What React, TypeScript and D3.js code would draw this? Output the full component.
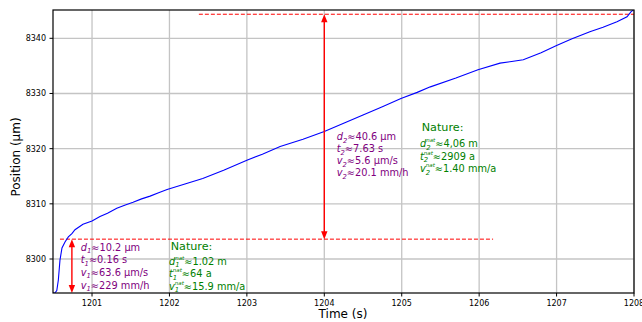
import React from "react";
import * as d3 from "d3";

// ---- data ----
const times = [
  1200.496, 1200.52, 1200.545, 1200.565, 1200.586, 1200.612, 1200.651, 1200.694, 1200.74, 1200.78,
  1200.883, 1201.0, 1201.103, 1201.2, 1201.32, 1201.43, 1201.53, 1201.64, 1201.75, 1201.86, 1201.97,
  1202.2, 1202.43, 1202.7, 1203.0, 1203.2, 1203.43, 1203.725, 1204.0, 1204.25, 1204.5, 1204.75,
  1204.99, 1205.2, 1205.37, 1205.7, 1205.985, 1206.27, 1206.42, 1206.57, 1206.8, 1207.0, 1207.2,
  1207.43, 1207.6, 1207.78, 1207.91, 1207.96, 1207.99,
];
const positions = [
  8293.84, 8293.84, 8294.3, 8296.2, 8299.8, 8302.0, 8303.1, 8304.0, 8304.6, 8305.3,
  8306.3, 8306.9, 8307.7, 8308.3, 8309.2, 8309.8, 8310.3, 8310.9, 8311.4, 8312.0, 8312.6,
  8313.6, 8314.6, 8316.1, 8317.9, 8319.0, 8320.4, 8321.7, 8323.1, 8324.6, 8326.1, 8327.6,
  8329.1, 8330.2, 8331.2, 8332.8, 8334.3, 8335.5, 8335.8, 8336.1, 8337.4, 8338.7, 8339.9,
  8341.2, 8342.0, 8343.0, 8343.9, 8344.8, 8345.1,
];
const xTicks = [1201, 1202, 1203, 1204, 1205, 1206, 1207, 1208];
const yTicks = [8300, 8310, 8320, 8330, 8340];
const xDomain = [1200.496, 1208.0];
const yDomain = [8293.84, 8345.13];

const level1 = 8303.6;
const level1Span = [1200.586, 1206.18];
const level2 = 8344.36;
const level2Span = [1202.38, 1208.0];
const arrow1X = 1200.74;
const arrow2X = 1204.0;

type Line = { sym: string; sub: string; sup?: string; rest: string };
const lab1: Line[] = [
  { sym: "d", sub: "1", rest: "≈10.2 µm" },
  { sym: "t", sub: "1", rest: "≈0.16 s" },
  { sym: "v", sub: "1", rest: "≈63.6 µm/s" },
  { sym: "v", sub: "1", rest: "≈229 mm/h" },
];
const nat1: Line[] = [
  { sym: "d", sub: "1", sup: "nat", rest: "≈1.02 m" },
  { sym: "t", sub: "1", sup: "nat", rest: "≈64 a" },
  { sym: "v", sub: "1", sup: "nat", rest: "≈15.9 mm/a" },
];
const lab2: Line[] = [
  { sym: "d", sub: "2", rest: "≈40.6 µm" },
  { sym: "t", sub: "2", rest: "≈7.63 s" },
  { sym: "v", sub: "2", rest: "≈5.6 µm/s" },
  { sym: "v", sub: "2", rest: "≈20.1 mm/h" },
];
const nat2: Line[] = [
  { sym: "d", sub: "2", sup: "nat", rest: "≈4,06 m" },
  { sym: "t", sub: "2", sup: "nat", rest: "≈2909 a" },
  { sym: "v", sub: "2", sup: "nat", rest: "≈1.40 mm/a" },
];

const W = 642, H = 322;
const L = 53, R = 634, T = 10, B = 293;
const FONT = "DejaVu Sans, sans-serif";
const PURPLE = "#800080";
const GREEN = "#008000";

function MathLine({ x, y, line, color }: { x: number; y: number; line: Line; color: string }) {
  const fs = 9.8;
  const subFs = 6.8;
  if (line.sup) {
    const subW = 0.636 * subFs;
    return (
      <text x={x} y={y} fontSize={fs} fill={color} fontFamily={FONT}>
        <tspan fontStyle="italic">{line.sym}</tspan>
        <tspan fontStyle="italic" fontSize={subFs} dy={2.5}>{line.sub}</tspan>
        <tspan fontStyle="italic" fontSize={5.5} dx={-subW} dy={-7.5}>{line.sup}</tspan>
        <tspan dy={5}>{line.rest}</tspan>
      </text>
    );
  }
  return (
    <text x={x} y={y} fontSize={fs} fill={color} fontFamily={FONT}>
      <tspan fontStyle="italic">{line.sym}</tspan>
      <tspan fontStyle="italic" fontSize={subFs} dy={2.5}>{line.sub}</tspan>
      <tspan dy={-2.5}>{line.rest}</tspan>
    </text>
  );
}

export default function App() {
  const x = d3.scaleLinear().domain(xDomain).range([L, R]);
  const y = d3.scaleLinear().domain(yDomain).range([B, T]);
  const line = d3
    .line<number>()
    .x((_, i) => x(times[i]))
    .y((d) => y(d));
  const path = line(positions) || "";

  const arrowHead = (cx: number, tipY: number, dir: number) => {
    const len = 8, half = 3.2;
    return `M${cx},${tipY} L${cx - half},${tipY + dir * len} L${cx + half},${tipY + dir * len} Z`;
  };

  const a1x = x(arrow1X);
  const a2x = x(arrow2X);
  const yl1 = y(level1);
  const yl2 = y(level2);

  return (
    <svg width={W} height={H} style={{ position: "absolute", left: 0, top: 0, background: "#fff" }}>
      <defs>
        <clipPath id="plot">
          <rect x={L} y={T} width={R - L} height={B - T} />
        </clipPath>
      </defs>
      <rect x={0} y={0} width={W} height={H} fill="#fff" />
      {/* grid */}
      {xTicks.map((t) => (
        <line key={"gx" + t} x1={x(t)} x2={x(t)} y1={T} y2={B} stroke="#c4c4c4" strokeWidth={1.3} />
      ))}
      {yTicks.map((t) => (
        <line key={"gy" + t} x1={L} x2={R} y1={y(t)} y2={y(t)} stroke="#c4c4c4" strokeWidth={1.3} />
      ))}
      {/* dashed levels */}
      <line x1={x(level1Span[0])} x2={x(level1Span[1])} y1={yl1} y2={yl1} stroke="red" strokeWidth={1} strokeDasharray="4,2" />
      <line x1={x(level2Span[0])} x2={x(level2Span[1])} y1={yl2} y2={yl2} stroke="red" strokeWidth={1} strokeDasharray="4,2" />
      {/* curve */}
      <path d={path} fill="none" stroke="blue" strokeWidth={1.1} clipPath="url(#plot)" />
      {/* arrows */}
      <line x1={a1x} x2={a1x} y1={yl1 + 6} y2={B - 6} stroke="red" strokeWidth={1.4} />
      <path d={arrowHead(a1x, yl1, 1)} fill="red" />
      <path d={arrowHead(a1x, B, -1)} fill="red" />
      <line x1={a2x} x2={a2x} y1={yl2 + 6} y2={yl1 - 6} stroke="red" strokeWidth={1.4} />
      <path d={arrowHead(a2x, yl2, 1)} fill="red" />
      <path d={arrowHead(a2x, yl1, -1)} fill="red" />
      {/* annotations */}
      {lab1.map((ln, i) => (
        <MathLine key={"l1" + i} x={x(1200.854)} y={250.5 + i * 12.7} line={ln} color={PURPLE} />
      ))}
      <text x={x(1202.016)} y={250} fontSize={11.2} fill={GREEN} fontFamily={FONT}>Nature:</text>
      {nat1.map((ln, i) => (
        <MathLine key={"n1" + i} x={x(1201.994)} y={264.5 + i * 12.5} line={ln} color={GREEN} />
      ))}
      {lab2.map((ln, i) => (
        <MathLine key={"l2" + i} x={x(1204.16)} y={140 + i * 12} line={ln} color={PURPLE} />
      ))}
      <text x={x(1205.258)} y={131.3} fontSize={11.2} fill={GREEN} fontFamily={FONT}>Nature:</text>
      {nat2.map((ln, i) => (
        <MathLine key={"n2" + i} x={x(1205.236)} y={147 + i * 12.5} line={ln} color={GREEN} />
      ))}
      {/* spines */}
      <rect x={L} y={T} width={R - L} height={B - T} fill="none" stroke="#000" strokeWidth={1.2} />
      {/* ticks */}
      {xTicks.map((t) => (
        <g key={"tx" + t}>
          <line x1={x(t)} x2={x(t)} y1={B} y2={B + 3.5} stroke="#000" strokeWidth={1} />
          <text x={x(t)} y={B + 13} fontSize={8} textAnchor="middle" fontFamily={FONT} fill="#000">{t}</text>
        </g>
      ))}
      {yTicks.map((t) => (
        <g key={"ty" + t}>
          <line x1={L - 3.5} x2={L} y1={y(t)} y2={y(t)} stroke="#000" strokeWidth={1} />
          <text x={L - 7} y={y(t) + 3} fontSize={8} textAnchor="end" fontFamily={FONT} fill="#000">{t}</text>
        </g>
      ))}
      <text x={343} y={318} fontSize={12} textAnchor="middle" fontFamily={FONT} fill="#000">Time (s)</text>
      <text transform={`translate(20,157) rotate(-90)`} fontSize={12} textAnchor="middle" fontFamily={FONT} fill="#000">Position (µm)</text>
    </svg>
  );
}
